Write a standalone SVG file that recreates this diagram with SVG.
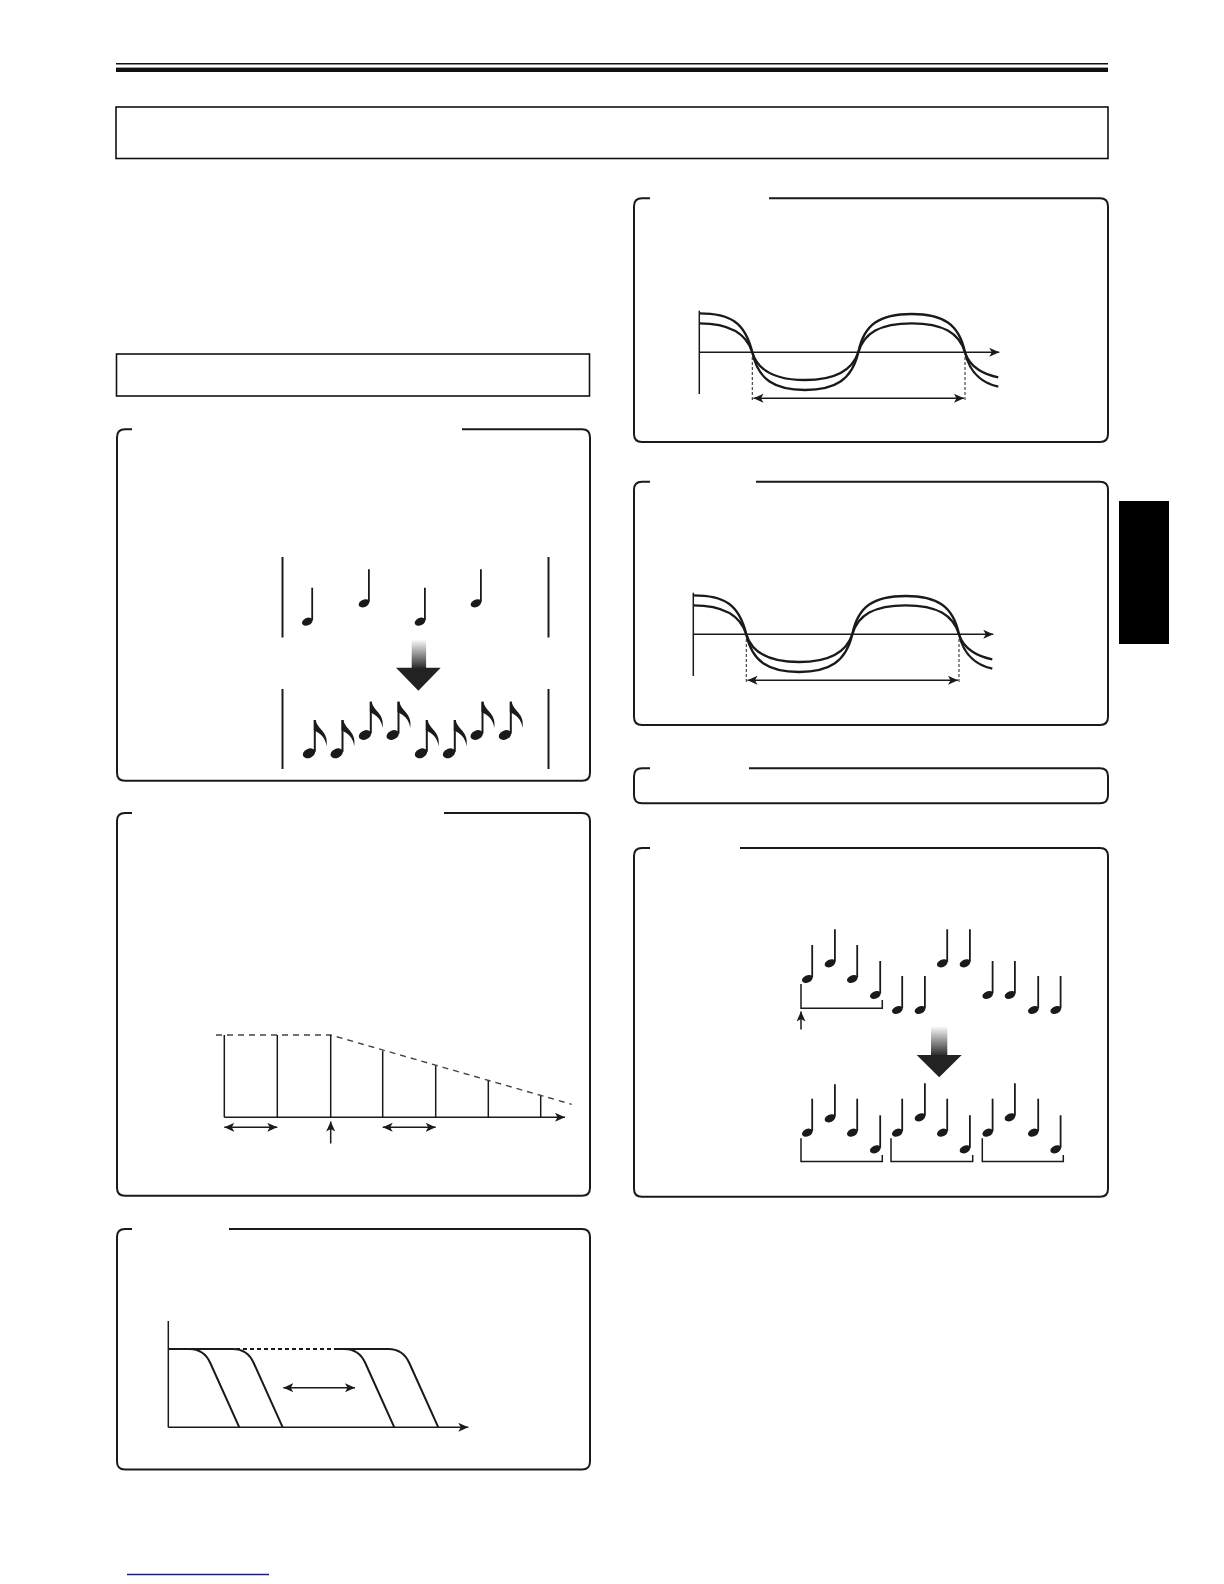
<svg xmlns="http://www.w3.org/2000/svg" xmlns:xlink="http://www.w3.org/1999/xlink" width="1224" height="1584" viewBox="0 0 1224 1584">
<style>
.panel{fill:none;stroke:#1a1a1a;stroke-width:2}
.box{fill:none;stroke:#111;stroke-width:1.6}
.ax{fill:none;stroke:#1a1a1a;stroke-width:1.5}
.bar{fill:none;stroke:#1a1a1a;stroke-width:2}
.wave{fill:none;stroke:#1a1a1a;stroke-width:2.3}
.dsh{fill:none;stroke:#333;stroke-width:1.1;stroke-dasharray:3 2}
.dsh2{fill:none;stroke:#444;stroke-width:1.4;stroke-dasharray:6 5}
.dsh3{fill:none;stroke:#1a1a1a;stroke-width:2;stroke-dasharray:4 3}
.env{fill:none;stroke:#1a1a1a;stroke-width:2}
.ink{fill:#1a1a1a}
.arr{fill:none;stroke:#1a1a1a;stroke-width:1.5;marker-end:url(#ah)}
.darr{fill:none;stroke:#1a1a1a;stroke-width:1.5;marker-start:url(#ah);marker-end:url(#ah)}
</style>
<defs>
<marker id="ah" markerUnits="userSpaceOnUse" markerWidth="12" markerHeight="10" refX="10" refY="4.5" orient="auto-start-reverse" viewBox="0 0 12 10">
<path d="M0,0 L10,4.5 L0,9 L2.5,4.5 Z" fill="#1a1a1a"/>
</marker>
<linearGradient id="shaft" x1="0" y1="0" x2="0" y2="1">
<stop offset="0" stop-color="#ffffff"/>
<stop offset="1" stop-color="#2a2a2a"/>
</linearGradient>
<g id="qn">
<ellipse cx="0" cy="0" rx="5.6" ry="3.7" transform="rotate(-25)" fill="#1a1a1a"/>
<line x1="4.9" y1="-1.5" x2="4.9" y2="-34" stroke="#1a1a1a" stroke-width="1.8"/>
</g>
<g id="en">
<ellipse cx="0" cy="0" rx="6.5" ry="4.5" transform="rotate(-25)" fill="#1a1a1a"/>
<line x1="5.8" y1="-1.5" x2="5.8" y2="-33.3" stroke="#1a1a1a" stroke-width="2"/>
<path d="M4.8,-33.3 L6.8,-33.3 C8,-24 20,-22 17.5,-7 C16.5,-16 11,-20 4.8,-23 Z" fill="#1a1a1a"/>
</g>
</defs>
<rect width="1224" height="1584" fill="#fff"/>

<g id="header-rules">
<line x1="116" y1="63.8" x2="1108" y2="63.8" stroke="#111" stroke-width="1.4"/>
<rect x="116" y="67.6" width="992" height="4.4" fill="#111"/>
</g>
<g id="title-box"><rect class="box" x="116" y="107" width="992" height="51.5"/></g>
<g id="section-box"><rect class="box" x="116.5" y="354" width="473" height="42"/></g>
<g id="side-tab"><rect x="1119" y="501" width="50" height="143" fill="#000"/></g>
<g id="footer-link"><line x1="127" y1="1574.5" x2="269" y2="1574.5" stroke="#1a1a9a" stroke-width="1.6"/></g>

<g id="panel-arpeggio">
<path class="panel" d="M132,429.3 L125,429.3 Q117,429.3 117,437.3 L117,772.7 Q117,780.7 125,780.7 L582,780.7 Q590,780.7 590,772.7 L590,437.3 Q590,429.3 582,429.3 L462,429.3"/>
<line class="bar" x1="282.5" y1="557" x2="282.5" y2="637.5"/>
<line class="bar" x1="548.5" y1="557" x2="548.5" y2="637.5"/>
<line class="bar" x1="282.5" y1="689" x2="282.5" y2="769"/>
<line class="bar" x1="548.5" y1="689" x2="548.5" y2="769"/>
<use xlink:href="#qn" x="307.3" y="621.7"/>
<use xlink:href="#qn" x="364" y="603.3"/>
<use xlink:href="#qn" x="420" y="621.7"/>
<use xlink:href="#qn" x="476" y="603.3"/>
<rect x="411.7" y="639.3" width="14.4" height="29" fill="url(#shaft)"/>
<path d="M396,667.7 L440.7,667.7 L418.4,690.7 Z" fill="#222"/>
<use xlink:href="#en" x="309" y="753.3"/>
<use xlink:href="#en" x="336.7" y="753.3"/>
<use xlink:href="#en" x="365" y="735"/>
<use xlink:href="#en" x="392.7" y="735"/>
<use xlink:href="#en" x="421" y="753.3"/>
<use xlink:href="#en" x="449" y="753.3"/>
<use xlink:href="#en" x="476.7" y="735"/>
<use xlink:href="#en" x="505" y="735"/>
</g>

<g id="panel-delay">
<path class="panel" d="M132,813 L125,813 Q117,813 117,821 L117,1187.7 Q117,1195.7 125,1195.7 L582,1195.7 Q590,1195.7 590,1187.7 L590,821 Q590,813 582,813 L444,813"/>
<path class="dsh2" d="M216,1035 L330.7,1035 L571.7,1104.3"/>
<g class="ax">
<line x1="224.3" y1="1035" x2="224.3" y2="1117.3"/>
<line x1="277.3" y1="1035" x2="277.3" y2="1117.3"/>
<line x1="330.7" y1="1035" x2="330.7" y2="1117.3"/>
<line x1="382.7" y1="1051" x2="382.7" y2="1117.3"/>
<line x1="435.7" y1="1066" x2="435.7" y2="1117.3"/>
<line x1="488.3" y1="1081" x2="488.3" y2="1117.3"/>
<line x1="540.7" y1="1096" x2="540.7" y2="1117.3"/>
</g>
<line class="arr" x1="224.3" y1="1117.3" x2="565" y2="1117.3"/>
<line class="darr" x1="224.3" y1="1127.3" x2="277.3" y2="1127.3"/>
<line class="darr" x1="382.7" y1="1127.3" x2="435.7" y2="1127.3"/>
<line class="arr" x1="330.7" y1="1143.5" x2="330.7" y2="1121.5"/>
</g>

<g id="panel-envelope">
<path class="panel" d="M132,1229 L125,1229 Q117,1229 117,1237 L117,1461.4 Q117,1469.4 125,1469.4 L582,1469.4 Q590,1469.4 590,1461.4 L590,1237 Q590,1229 582,1229 L229,1229"/>
<line class="ax" x1="168.3" y1="1321" x2="168.3" y2="1427.3"/>
<line class="arr" x1="168.3" y1="1427.3" x2="468.3" y2="1427.3"/>
<path class="env" d="M168.3,1349 L189.3,1349 Q204,1349 210.3,1363 L239.3,1427.3"/>
<path class="env" d="M168.3,1349 L232.7,1349 Q247.5,1349 253.7,1363 L282.7,1427.3"/>
<path class="env" d="M336,1349 L344.3,1349 Q359,1349 365.3,1363 L394.3,1427.3"/>
<path class="env" d="M336,1349 L388.3,1349 Q403,1349 409.3,1363 L438.3,1427.3"/>
<line class="dsh3" x1="236" y1="1349" x2="336" y2="1349"/>
<line class="darr" x1="283.3" y1="1387.7" x2="355" y2="1387.7"/>
</g>

<g id="panel-wave1">
<path class="panel" d="M650,198.3 L642,198.3 Q634,198.3 634,206.3 L634,434 Q634,442 642,442 L1100,442 Q1108,442 1108,434 L1108,206.3 Q1108,198.3 1100,198.3 L769,198.3"/>
<g id="wave">
<line class="ax" x1="699.3" y1="310.7" x2="699.3" y2="394"/>
<line class="arr" x1="699.3" y1="352.3" x2="999.3" y2="352.3"/>
<path class="wave" d="M699.3,313.3 C730,313.3 745,322 752.3,352.3 C758,380 775,390 805,390 C835,390 852,380 858.3,352.3 C864,324 880,314 911.7,314 C943,314 959,324 965,352.3 C970,375 985,384 998.3,386.7"/>
<path class="wave" d="M699.3,323.3 C728,323.3 746,332 752.3,352.3 C758,371 775,380 805,380 C835,380 852,371 858.3,352.3 C864,333 880,323.3 911.7,323.3 C943,323.3 959,333 965,352.3 C970,368 985,375 998.3,377.3"/>
<line class="dsh" x1="752.3" y1="357" x2="752.3" y2="401.7"/>
<line class="dsh" x1="965" y1="357" x2="965" y2="401.7"/>
<line class="darr" x1="753.5" y1="398.3" x2="964" y2="398.3"/>
</g>
</g>

<g id="panel-wave2">
<path class="panel" d="M650,481.7 L642,481.7 Q634,481.7 634,489.7 L634,717 Q634,725 642,725 L1100,725 Q1108,725 1108,717 L1108,489.7 Q1108,481.7 1100,481.7 L756,481.7"/>
<use xlink:href="#wave" transform="translate(-6,282)"/>
</g>

<g id="panel-bar">
<path class="panel" d="M650,768.3 L642,768.3 Q634,768.3 634,776.3 L634,795.3 Q634,803.3 642,803.3 L1100,803.3 Q1108,803.3 1108,795.3 L1108,776.3 Q1108,768.3 1100,768.3 L749,768.3"/>
</g>

<g id="panel-quantize">
<path class="panel" d="M650,848 L642,848 Q634,848 634,856 L634,1188.7 Q634,1196.7 642,1196.7 L1100,1196.7 Q1108,1196.7 1108,1188.7 L1108,856 Q1108,848 1100,848 L740,848"/>
<use xlink:href="#qn" x="807.3" y="979"/>
<use xlink:href="#qn" x="830" y="963.3"/>
<use xlink:href="#qn" x="852.3" y="979"/>
<use xlink:href="#qn" x="875.3" y="995"/>
<use xlink:href="#qn" x="897.3" y="1010"/>
<use xlink:href="#qn" x="920" y="1010"/>
<use xlink:href="#qn" x="942.3" y="963.3"/>
<use xlink:href="#qn" x="965" y="963.3"/>
<use xlink:href="#qn" x="987.7" y="995"/>
<use xlink:href="#qn" x="1010" y="995"/>
<use xlink:href="#qn" x="1033.3" y="1010"/>
<use xlink:href="#qn" x="1055.7" y="1010"/>
<path class="ax" d="M801,984 L801,1008.3 L882.3,1008.3 L882.3,1000"/>
<line class="arr" x1="801" y1="1029.5" x2="801" y2="1011.5"/>
<rect x="931" y="1026" width="16.3" height="29.5" fill="url(#shaft)"/>
<path d="M916.7,1055 L961.7,1055 L939.2,1077.3 Z" fill="#222"/>
<use xlink:href="#qn" x="807.3" y="1132.7"/>
<use xlink:href="#qn" x="830" y="1118.3"/>
<use xlink:href="#qn" x="852.3" y="1132.7"/>
<use xlink:href="#qn" x="875.3" y="1149.3"/>
<use xlink:href="#qn" x="897.3" y="1132.7"/>
<use xlink:href="#qn" x="920" y="1117.3"/>
<use xlink:href="#qn" x="942.3" y="1132.7"/>
<use xlink:href="#qn" x="965" y="1149.3"/>
<use xlink:href="#qn" x="987.7" y="1132.7"/>
<use xlink:href="#qn" x="1010" y="1117.3"/>
<use xlink:href="#qn" x="1033.3" y="1132.7"/>
<use xlink:href="#qn" x="1055.7" y="1149.3"/>
<path class="ax" d="M801,1138.3 L801,1161.4 L882.3,1161.4 L882.3,1155"/>
<path class="ax" d="M891,1138.3 L891,1161.4 L972.7,1161.4 L972.7,1155"/>
<path class="ax" d="M982.3,1138.3 L982.3,1161.4 L1063.3,1161.4 L1063.3,1155"/>
</g>
</svg>
